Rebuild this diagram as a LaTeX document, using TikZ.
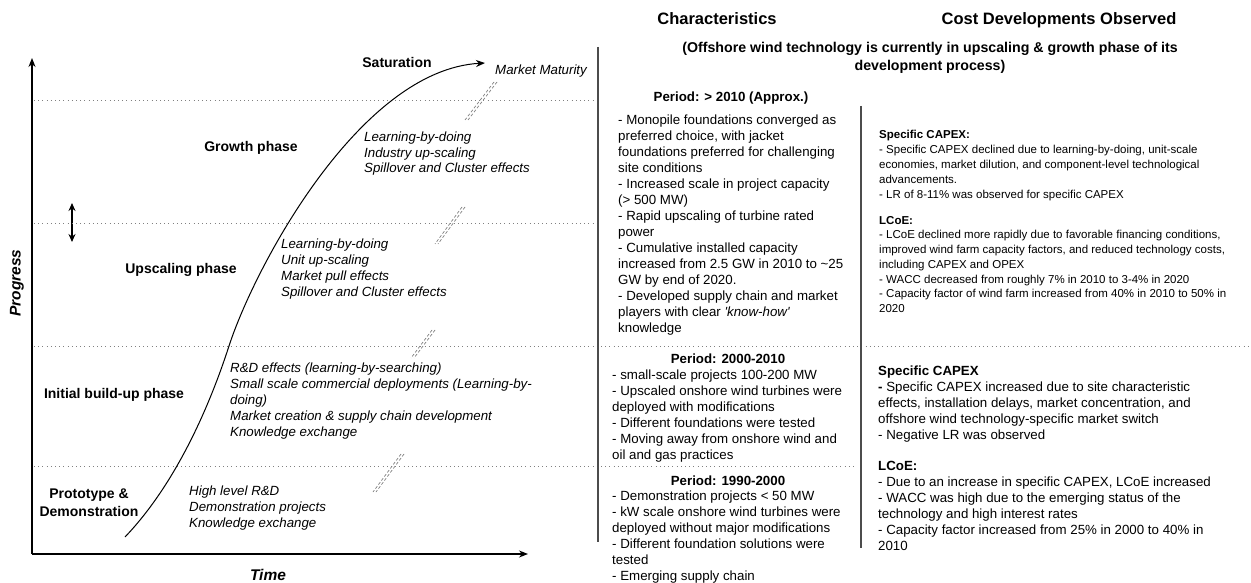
\documentclass[tikz,border=0pt]{standalone}
\usepackage{fontspec}
\setmainfont{Liberation Sans}
\usetikzlibrary{arrows.meta}
\tikzset{
	phase/.style={font=\bfseries\fontsize{14}{18}\selectfont, inner sep=0pt, anchor=base, align=center},
	effect/.style={font=\itshape\fontsize{13.3}{16}\selectfont, inner sep=0pt, anchor=base west, align=left},
	charac/.style={font=\fontsize{13.3}{16}\selectfont, inner sep=0pt, anchor=base west, align=left},
	costsmall/.style={font=\fontsize{11.5}{14.75}\selectfont, inner sep=0pt, anchor=base west, align=left},
	period/.style={font=\bfseries\fontsize{13.3}{16}\selectfont, inner sep=0pt, anchor=base},
	header/.style={font=\bfseries\fontsize{16.5}{20}\selectfont, inner sep=0pt, anchor=base},
	axislabel/.style={font=\bfseries\itshape\fontsize{15.5}{18}\selectfont, inner sep=0pt},
	sepline/.style={gray, line width=0.9pt, dash pattern=on 1pt off 3.2pt},
	colline/.style={black!70, line width=1.4pt},
	hatch/.style={gray, line width=0.7pt, dash pattern=on 3pt off 2pt},
	axis/.style={line width=1.2pt, -{Stealth[length=9pt,width=7pt]}},
}

\begin{document}
\begin{tikzpicture}[x=1pt, y=-1pt]
			%%%%% START %%%%%
			% multi-line nodes sit on the baseline of their last line
			\useasboundingbox (0, 0) rectangle (1251, 583);
			
			% axes
			\coordinate (origin) at (32, 554);
			\draw[axis] (origin) -- (32, 58);
			\draw[axis] (origin) -- (528, 554);
			\node[axislabel, rotate=90] (progress) at (17, 283) {Progress};
			\node[axislabel, anchor=base] (time) at (268, 580.5) {Time};
			\draw[line width=1.3pt, {Stealth[length=8pt,width=7pt]}-{Stealth[length=8pt,width=7pt]}] (72, 203) -- (72, 242);
			
			% phase borders
			\draw[sepline] (34, 100) -- (597, 100);
			\draw[sepline] (34, 223) -- (597, 223);
			\draw[sepline] (34, 346) -- (1251, 346);
			\draw[sepline] (34, 466) -- (855, 466);
			
			% s-curve
			\coordinate (start) at (125, 537);
			\coordinate (steep) at (229, 346);
			\coordinate (top) at (485, 63);
			\draw[line width=1pt, -{Stealth[length=9pt,width=7pt]}] (start) .. controls (170, 490) and (205, 420) .. (steep) .. controls (255, 266) and (360, 70) .. (top);
			
			% break marks
			\foreach \xa/\ya/\xb/\yb in {494/82/465/120, 462/207/435/244, 432/330/411/358, 401/454/373/492}{
				\draw[hatch] (\xa, \ya) -- (\xb, \yb);
				\draw[hatch] (\xa+3, \ya) -- (\xb+3, \yb);
			}
			
			% phases
			\node[phase] (saturation) at (397, 68) {Saturation};
			\node[effect] (maturity) at (495, 74.5) {Market Maturity};
			\node[phase] (growth) at (251, 152) {Growth phase};
			\node[effect] (growtheff) at (364, 173) {Learning-by-doing\\Industry up-scaling\\Spillover and Cluster effects};
			\node[phase] (upscaling) at (181, 273) {Upscaling phase};
			\node[effect] (upscalingeff) at (281, 296.5) {Learning-by-doing\\Unit up-scaling\\Market pull effects\\Spillover and Cluster effects};
			\node[phase] (buildup) at (114, 398) {Initial build-up phase};
			\node[effect] (buildupeff) at (230, 436.5) {R\&D effects (learning-by-searching)\\Small scale commercial deployments (Learning-by-\\doing)\\Market creation \& supply chain development\\Knowledge exchange};
			\node[phase] (prototype) at (89, 516) {Prototype \&\\Demonstration};
			\node[effect] (prototypeeff) at (189, 527.5) {High level R\&D\\Demonstration projects\\Knowledge exchange};
			
			% columns
			\draw[colline] (598, 47) -- (598, 542);
			\draw[colline] (861, 106) -- (861, 548);
			\node[header] (charhead) at (717, 25) {Characteristics};
			\node[header] (costhead) at (1059, 25) {Cost Developments Observed};
			\node[font=\bfseries\fontsize{14.2}{17.5}\selectfont, inner sep=0pt, anchor=base, align=center] (status) at (930, 70.5) {(Offshore wind technology is currently in upscaling \& growth phase of its\\development process)};
			
			% period > 2010
			\node[period] (periodc) at (731, 102) {Period: > 2010 (Approx.)};
			\node[charac] (charc) at (618, 332.5) {- Monopile foundations converged as\\preferred choice, with jacket\\foundations preferred for challenging\\site conditions\\- Increased scale in project capacity\\(> 500 MW)\\- Rapid upscaling of turbine rated\\power\\- Cumulative installed capacity\\increased from 2.5 GW in 2010 to \textasciitilde25\\GW by end of 2020.\\- Developed supply chain and market\\players with clear \textit{\textquotesingle know-how\textquotesingle}\\knowledge};
			\node[costsmall] (capexc) at (879, 198) {\textbf{Specific CAPEX:}\\- Specific CAPEX declined due to learning-by-doing, unit-scale\\economies, market dilution, and component-level technological\\advancements.\\- LR of 8-11\% was observed for specific CAPEX};
			\node[costsmall] (lcoec) at (879, 312.5) {\textbf{LCoE:}\\- LCoE declined more rapidly due to favorable financing conditions,\\improved wind farm capacity factors, and reduced technology costs,\\including CAPEX and OPEX\\- WACC decreased from roughly 7\% in 2010 to 3-4\% in 2020\\- Capacity factor of wind farm increased from 40\% in 2010 to 50\% in\\2020};
			
			% period 2000-2010
			\node[period] (periodb) at (728, 363) {Period: 2000-2010};
			\node[charac] (charb) at (612, 459.5) {- small-scale projects 100-200 MW\\- Upscaled onshore wind turbines were\\deployed with modifications\\- Different foundations were tested\\- Moving away from onshore wind and\\oil and gas practices};
			\node[charac] (capexb) at (878, 439.5) {\textbf{Specific CAPEX}\\\textbf{-} Specific CAPEX increased due to site characteristic\\effects, installation delays, market concentration, and\\offshore wind technology-specific market switch\\- Negative LR was observed};
			\node[charac] (lcoeb) at (878, 550.5) {\textbf{LCoE:}\\- Due to an increase in specific CAPEX, LCoE increased\\- WACC was high due to the emerging status of the\\technology and high interest rates\\- Capacity factor increased from 25\% in 2000 to 40\% in\\2010};
			
			% period 1990-2000
			\node[period] (perioda) at (728, 485) {Period: 1990-2000};
			\node[charac] (chara) at (612, 580.5) {- Demonstration projects < 50 MW\\- kW scale onshore wind turbines were\\deployed without major modifications\\- Different foundation solutions were\\tested\\- Emerging supply chain};
			%%%%% END %%%%%
\end{tikzpicture}
\end{document}
